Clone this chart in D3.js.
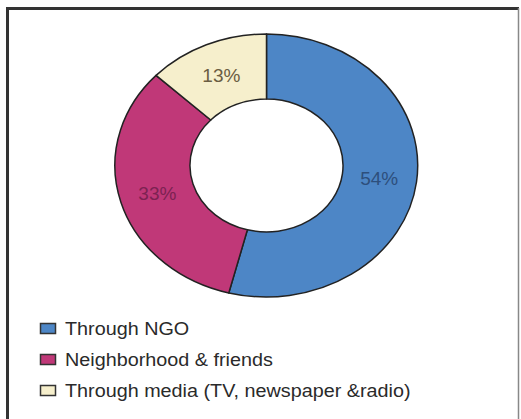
<!DOCTYPE html>
<html><head><meta charset="utf-8">
<script src="https://cdn.jsdelivr.net/npm/d3@7/dist/d3.min.js"></script>
<style>body{margin:0;background:#fff}svg{display:block}text{font-family:Arial,"Liberation Sans",sans-serif}</style>
</head><body>
<script>
const categories = ["Through NGO", "Neighborhood & friends", "Through media (TV, newspaper &radio)"];
const values = [54, 33, 13];
const colors = ["#4d86c6", "#c03878", "#f6efcc"];
const labelColors = ["#2d4f7c", "#7c2252", "#6a5d42"];

const W = 521, H = 419;
const svg = d3.select("body").append("svg").attr("width", W).attr("height", H);

// frame
svg.append("line").attr("x1",7.5).attr("y1",7).attr("x2",7.5).attr("y2",H).attr("stroke","#333").attr("stroke-width",3);
svg.append("line").attr("x1",6).attr("y1",8.5).attr("x2",519).attr("y2",8.5).attr("stroke","#333").attr("stroke-width",3);
svg.append("line").attr("x1",518.5).attr("y1",8).attr("x2",518.5).attr("y2",H).attr("stroke","#888").attr("stroke-width",1.5);

const cx = 266.5, cy = 165.5, rx = 151.5, ry = 131.5;
const pie = d3.pie().sort(null).value(d => d);
const arcs = pie(values);
const arc = d3.arc().innerRadius(0.505).outerRadius(1);
const labelArc = d3.arc().innerRadius(0.75).outerRadius(0.75);

const g = svg.append("g").attr("transform", `translate(${cx},${cy}) scale(${rx},${ry})`);
g.selectAll("path").data(arcs).join("path")
  .attr("d", arc)
  .attr("fill", (d,i) => colors[i])
  .attr("stroke", "#222")
  .attr("stroke-width", 1.5)
  .attr("vector-effect", "non-scaling-stroke")
  .attr("stroke-linejoin", "round");

svg.selectAll("text.lbl").data(arcs).join("text").attr("class","lbl")
  .attr("x", d => cx + labelArc.centroid(d)[0]*rx)
  .attr("y", d => cy + labelArc.centroid(d)[1]*ry)
  .attr("dy", "0.36em")
  .attr("text-anchor", "middle")
  .attr("font-size", 19)
  .attr("fill", (d,i) => labelColors[i])
  .text(d => d.data + "%");

// legend
const leg = svg.append("g").attr("transform","translate(40,323)");
const items = leg.selectAll("g").data(categories).join("g")
  .attr("transform", (d,i) => `translate(0,${i*31})`);
items.append("rect").attr("x",0.5).attr("y",0.5).attr("width",15).attr("height",10)
  .attr("fill",(d,i)=>colors[i]).attr("stroke","#333").attr("stroke-width",1.5);
items.append("text").attr("x",25).attr("y",12).attr("font-size",18.5)
  .attr("fill","#2a2a2a").attr("textLength", null)
  .attr("transform","translate(25,12) scale(1.07,1) translate(-25,-12)")
  .text(d=>d);
</script>
</body></html>
